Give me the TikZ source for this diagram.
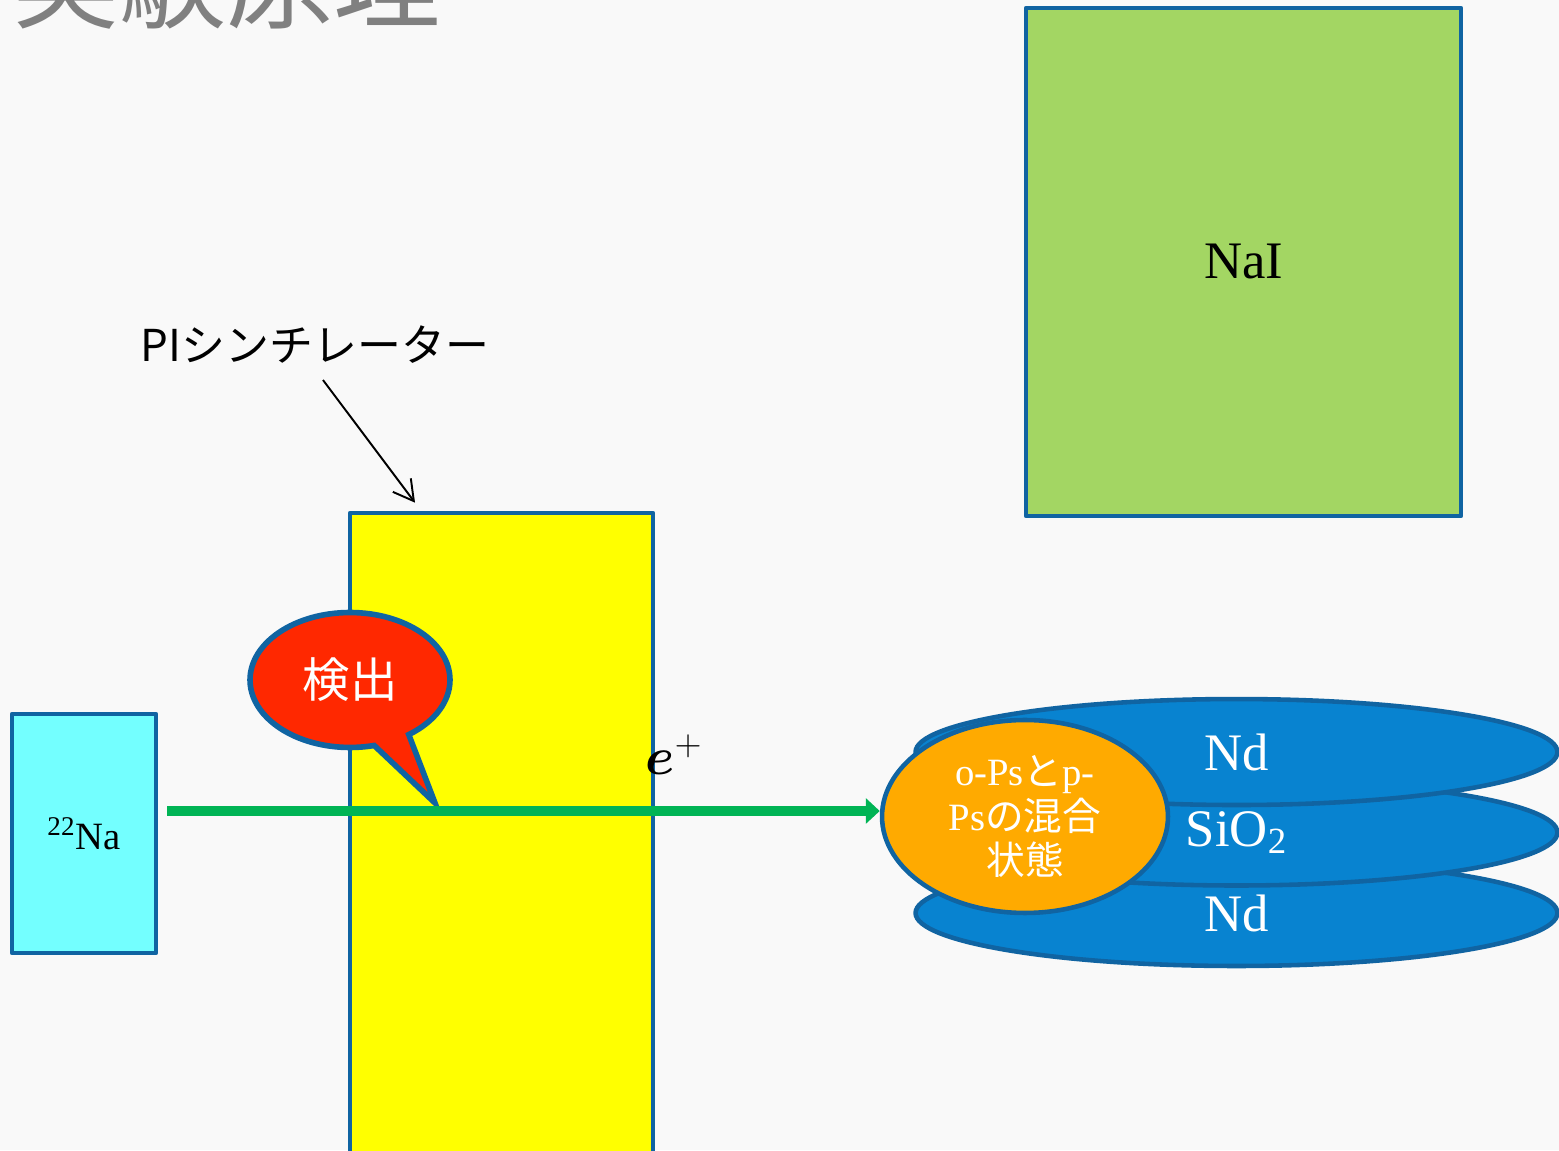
\RequirePackage{fix-cm}
\documentclass[tikz,border=0pt]{standalone}
\usepackage{fontspec}
\setmainfont{Liberation Serif}
\newfontfamily\jpfont{Noto Sans CJK JP}
\usetikzlibrary{shapes.geometric,shapes.callouts,arrows.meta}

\definecolor{slidebg}{RGB}{249,249,249}
\definecolor{edgeblue}{RGB}{16,100,162}
\definecolor{naigreen}{RGB}{163,214,99}
\definecolor{piyellow}{RGB}{255,255,0}
\definecolor{sourcecyan}{RGB}{115,255,255}
\definecolor{layerblue}{RGB}{8,131,208}
\definecolor{psorange}{RGB}{255,170,0}
\definecolor{beamgreen}{RGB}{0,180,85}
\definecolor{bubblered}{RGB}{255,40,0}
\definecolor{titlegray}{RGB}{128,128,128}

\tikzset{%
  % Specifications for style of nodes:
         block/.style = {rectangle, draw = edgeblue, line width=2.7pt, line join=round, inner sep=0pt},
         layer/.style = {ellipse, draw = edgeblue, line width=2.6pt, fill=layerblue, inner sep=0pt, minimum width=12.84cm, minimum height=2.12cm, text=white, font=\fontsize{30}{34}\selectfont},
}

\begin{document}
\begin{tikzpicture}[x=0.02cm, y=0.02cm, node distance=1.61cm, align=center]
    \fill[slidebg] (0,0) rectangle (1559,1150);
    \useasboundingbox (0,0) rectangle (1559,1150);

    % Draw nodes
    \node (title)   [anchor=base west, inner sep=0pt, text=titlegray, font=\jpfont\fontsize{61}{61}\selectfont] at (12,1129) {実験原理};
    \node (nai)     [block, fill=naigreen, minimum width=8.70cm, minimum height=10.16cm, font=\fontsize{30}{34}\selectfont] at (1243.5,888) {NaI};
    \node (pilabel) [font=\jpfont\fontsize{25}{30}\selectfont] at (315,805) {PIシンチレーター};
    \node (pi)      [block, fill=piyellow, minimum width=6.06cm, minimum height=13.14cm] at (501.5,308.5) {};
    \node (na)      [block, fill=sourcecyan, minimum width=2.88cm, minimum height=4.78cm, font=\fontsize{22}{26}\selectfont] at (84,316.5) {\textsuperscript{22}Na};
    \node (detect)  [ellipse callout, callout absolute pointer={(435,347)}, callout pointer arc=22, draw=edgeblue, line width=3.2pt, fill=bubblered, minimum width=4cm, minimum height=2.7cm, inner sep=0pt, text=white, font=\jpfont\fontsize{27}{30}\selectfont] at (350,470) {検出};
    \node (eplus)   [font=\fontsize{30}{34}\selectfont] at (674,395) {{\boldmath$e$}$^{+}$};

    % layers, lowest first so the upper ones sit on top
    \node (ndbot)   [layer] at (1236.5,237) {Nd};
    \node (sio)     [layer, above of = ndbot] {SiO\textsubscript{2}};
    \node (ndtop)   [layer, above of = sio] {Nd};
    \node (ps)      [ellipse, draw=edgeblue, line width=2.6pt, fill=psorange, minimum width=5.72cm, minimum height=3.86cm, inner sep=0pt, text=white, font=\fontsize{22}{25.5}\selectfont] at (1025,333.5) {o-Ps{\jpfont と}p-\\Ps{\jpfont の混合}\\{\jpfont 状態}};

    % Draw arrows
    \coordinate (beam) at (167,339);
    \draw[-{Triangle[length=0.28cm,width=0.5cm]}, line width=0.2cm, beamgreen] (beam) -- (beam -| ps.west);
    \draw[-{Straight Barb[length=0.4cm,width=0.45cm]}, line width=1.1pt] ([xshift=0.16cm, yshift=-0.2cm]pilabel.south) -- ([xshift=-1.73cm, yshift=0.16cm]pi.north);

\end{tikzpicture}
\end{document}
